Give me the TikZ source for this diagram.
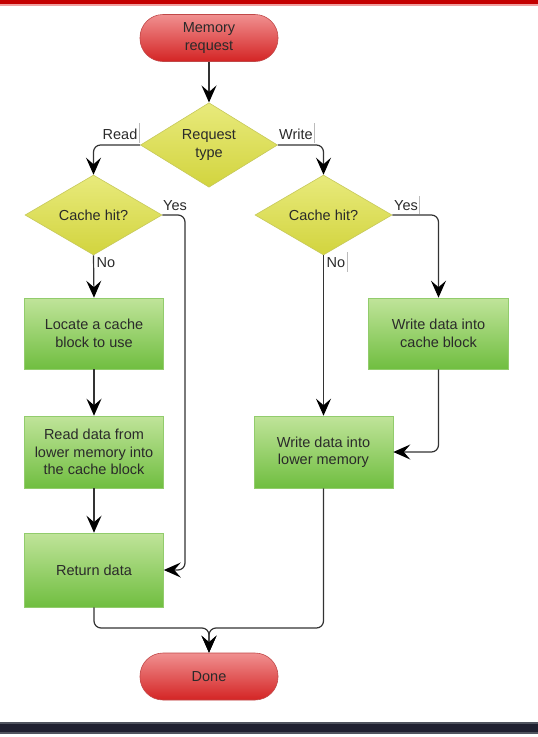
\documentclass[tikz,border=0pt]{standalone}
\usepackage{fontspec}
\setmainfont{Liberation Sans}
\usetikzlibrary{shapes.geometric, arrows.meta}
\definecolor{txt}{HTML}{2A2A2A}
\definecolor{termtop}{HTML}{F09090}
\definecolor{termbot}{HTML}{D42424}
\definecolor{termdraw}{HTML}{C04848}
\definecolor{dectop}{HTML}{E8EA7C}
\definecolor{decbot}{HTML}{D2D43E}
\definecolor{decdraw}{HTML}{C6C85A}
\definecolor{boxtop}{HTML}{C0E49A}
\definecolor{boxbot}{HTML}{70BE40}
\definecolor{boxdraw}{HTML}{92CC6C}
\definecolor{linec}{HTML}{333333}
\definecolor{topband}{HTML}{C40000}
\definecolor{topedge}{HTML}{F0A0A0}
\definecolor{botband}{HTML}{1F2030}
\definecolor{botedge}{HTML}{50545F}
\definecolor{tickc}{HTML}{BBBBBB}
\tikzset{
  base/.style={font=\fontsize{14.5}{17.5}\selectfont, text=txt, align=center, inner sep=0pt},
  terminal/.style={base, rectangle, rounded corners=23pt, minimum width=138pt, minimum height=47pt,
     top color=termtop, bottom color=termbot, draw=termdraw, line width=0.6pt},
  decision/.style={base, diamond, minimum width=137pt, minimum height=70pt,
     top color=dectop, bottom color=decbot, draw=decdraw, line width=0.6pt},
  procbox/.style={base, rectangle, minimum width=139pt, minimum height=71pt,
     top color=boxtop, bottom color=boxbot, draw=boxdraw, line width=0.6pt},
  lbl/.style={font=\fontsize{14.5}{17.5}\selectfont, text=txt, inner sep=0pt},
  arr/.style={draw=linec, line width=1.2pt, rounded corners=7pt,
     -{Stealth[length=17pt, width=15pt, inset=6.5pt, color=black]}},
  tick/.style={draw=tickc, line width=0.6pt}
}
\begin{document}
\begin{tikzpicture}[x=1pt, y=-1pt]
\useasboundingbox (0,0) rectangle (538,737);
% bands
\fill[topband] (0,0) rectangle (538,4);
\fill[topedge] (0,4) rectangle (538,5.5);
\fill[botedge] (0,722) rectangle (538,734);
\fill[botband] (0,724) rectangle (538,732);

% nodes
\node[terminal] (mem) at (209,38) {Memory\\request};
\node[decision] (rtype) at (209,145) {Request\\type};
\node[decision] (ch1) at (93.5,215) {Cache hit?};
\node[decision] (ch2) at (323.5,215) {Cache hit?};
\node[procbox] (locate) at (94,333.5) {Locate a cache\\block to use};
\node[procbox, minimum height=72pt] (readlow) at (94,452) {Read data from\\lower memory into\\the cache block};
\node[procbox, minimum height=74pt] (ret) at (94,570) {Return data};
\node[procbox, minimum width=140pt] (wcache) at (438.5,333.5) {Write data into\\cache block};
\node[procbox, minimum height=72pt] (wlow) at (323.5,452) {Write data into\\lower memory};
\node[terminal] (done) at (209,676.5) {Done};

\coordinate (yes1) at (185,215);
\coordinate (merge) at (209,628);

% connectors
\draw[arr] (mem) -- (rtype);
\draw[arr] (rtype.west) -| (ch1.north);
\draw[arr] (rtype.east) -| (ch2.north);
\draw[arr] (ch1.south) -- (locate.north);
\draw[arr] (ch1.east) -- (yes1) |- (ret.east);
\draw[arr] (ch2.east) -| (wcache.north);
\draw[arr] (ch2.south) -- (wlow.north);
\draw[arr] (wcache.south) |- (wlow.east);
\draw[arr] (locate) -- (readlow);
\draw[arr] (readlow) -- (ret);
\draw[arr] (ret.south) |- (merge) -- (done.north);
\draw[arr] (wlow.south) |- (merge) -- (done.north);

% labels
\node[lbl] (lread) at (120,134) {Read};
\node[lbl] (lwrite) at (296,134) {Write};
\node[lbl] (lyes1) at (175,206) {Yes};
\node[lbl] (lyes2) at (406,206) {Yes};
\node[lbl] (lno1) at (106,263) {No};
\node[lbl] (lno2) at (336,263) {No};
\draw[tick] (139.5,123) -- (139.5,143);
\draw[tick] (314,123) -- (314,143);
\draw[tick] (419,196) -- (419,214);
\draw[tick] (347,252) -- (347,272);
\end{tikzpicture}
\end{document}
